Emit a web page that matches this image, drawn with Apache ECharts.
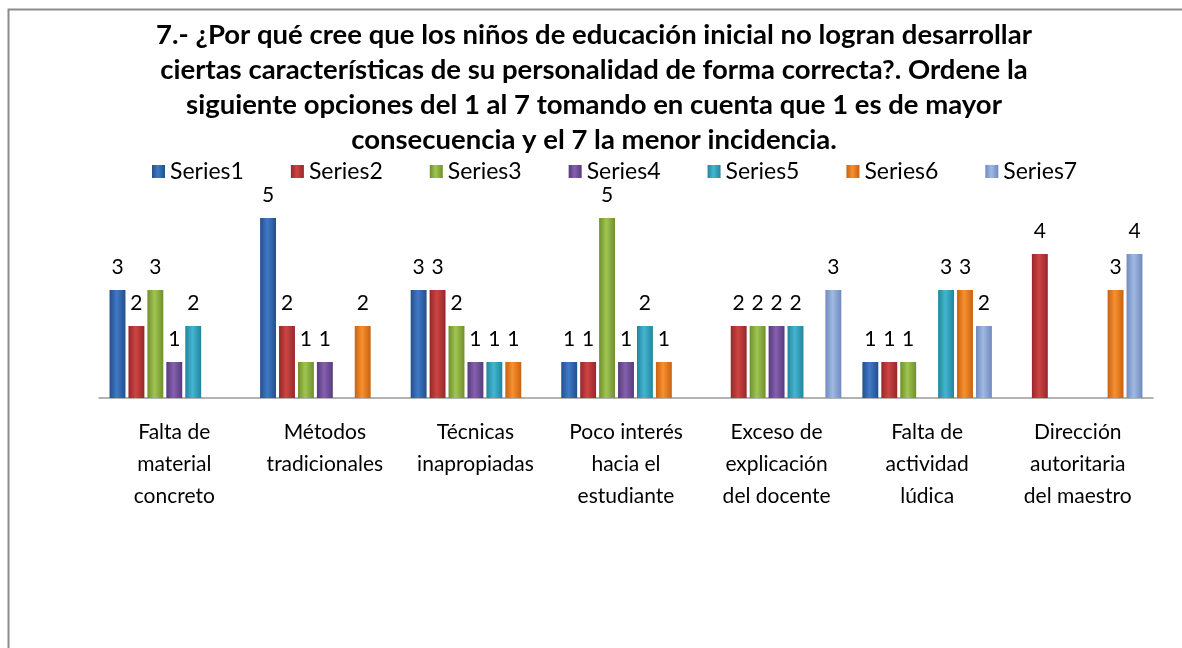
<!DOCTYPE html>
<html>
<head>
<meta charset="utf-8">
<script src="https://cdn.jsdelivr.net/npm/echarts@6/dist/echarts.min.js"></script>
<style>
html, body { margin: 0; padding: 0; background: #fff; }
#main { width: 1182px; height: 648px; }
</style>
</head>
<body>
<div id="main"></div>
<script>
// datos
var categorias = [
	'Falta de\nmaterial\nconcreto',
	'Métodos\ntradicionales',
	'Técnicas\ninapropiadas',
	'Poco interés\nhacia el\nestudiante',
	'Exceso de\nexplicación\ndel docente',
	'Falta de\nactividad\nlúdica',
	'Dirección\nautoritaria\ndel maestro'
];
var nombres = ['Series1', 'Series2', 'Series3', 'Series4', 'Series5', 'Series6', 'Series7'];
var series1 = [3, 5, 3, 1, null, 1, null];
var series2 = [2, 2, 3, 1, 2, 1, 4];
var series3 = [3, 1, 2, 5, 2, 1, null];
var series4 = [1, 1, 1, 1, 2, null, null];
var series5 = [2, null, 1, 2, 2, 3, null];
var series6 = [null, 2, 1, 1, null, 3, 3];
var series7 = [null, null, null, null, 3, 2, 4];
var valores = [series1, series2, series3, series4, series5, series6, series7];

var titulo = '7.- ¿Por qué cree que los niños de educación inicial no logran desarrollar\n' +
	'ciertas características de su personalidad de forma correcta?. Ordene la\n' +
	'siguiente opciones del 1 al 7 tomando en cuenta que 1 es de mayor\n' +
	'consecuencia y el 7 la menor incidencia.';

// colores (borde oscuro, centro claro)
var colores = [
	['#234f8c', '#4079c6'],
	['#98262a', '#cc4542'],
	['#6f8f2c', '#a0c552'],
	['#563b7c', '#8560ae'],
	['#21869d', '#44b5d0'],
	['#c8620f', '#f79030'],
	['#6f8bbd', '#a0b9e2']
];

var fuente = 'Lato, "Open Sans", sans-serif';

var grad = function(c){
	return new echarts.graphic.LinearGradient(0, 0, 1, 0, [
		{offset: 0, color: c[0]},
		{offset: 0.45, color: c[1]},
		{offset: 1, color: c[0]}
	]);
};

var series = [];
for (var i = 0; i < nombres.length; i++) {
	series.push({
		name: nombres[i],
		type: 'bar',
		data: valores[i],
		barGap: '19%',
		barCategoryGap: '14%',
		itemStyle: { color: grad(colores[i]) },
		label: {
			show: true,
			position: 'top',
			distance: 12,
			fontFamily: fuente,
			fontSize: 21,
			color: '#000'
		}
	});
}

var myChart = echarts.init(document.getElementById('main'));
var option = {
	backgroundColor: '#fff',
	animation: false,
	title: {
		text: titulo,
		left: 589,
		top: 13,
		textAlign: 'center',
		textStyle: {
			fontFamily: fuente,
			fontSize: 27.5,
			fontWeight: 'bold',
			lineHeight: 35,
			color: '#000'
		}
	},
	legend: {
		data: nombres,
		left: 147,
		top: 155,
		itemWidth: 13,
		itemHeight: 13,
		itemGap: 47,
		icon: 'rect',
		textStyle: {
			fontFamily: fuente,
			fontSize: 23,
			color: '#000'
		}
	},
	grid: {
		left: 99,
		right: 29,
		top: 182,
		bottom: 250
	},
	xAxis: {
		type: 'category',
		data: categorias,
		axisLine: { lineStyle: { color: '#9a9a9a', width: 1.5 } },
		axisTick: { show: false },
		axisLabel: {
			interval: 0,
			margin: 18,
			fontFamily: fuente,
			fontSize: 21,
			lineHeight: 32,
			color: '#000',
			verticalAlign: 'top'
		}
	},
	yAxis: {
		type: 'value',
		min: 0,
		max: 6,
		show: false
	},
	graphic: [{
		type: 'rect',
		shape: { x: 8.5, y: 9.5, width: 1300, height: 800 },
		style: { fill: 'none', stroke: '#8c8c8c', lineWidth: 2 },
		silent: true
	}],
	series: series
};
myChart.setOption(option);
</script>
</body>
</html>
